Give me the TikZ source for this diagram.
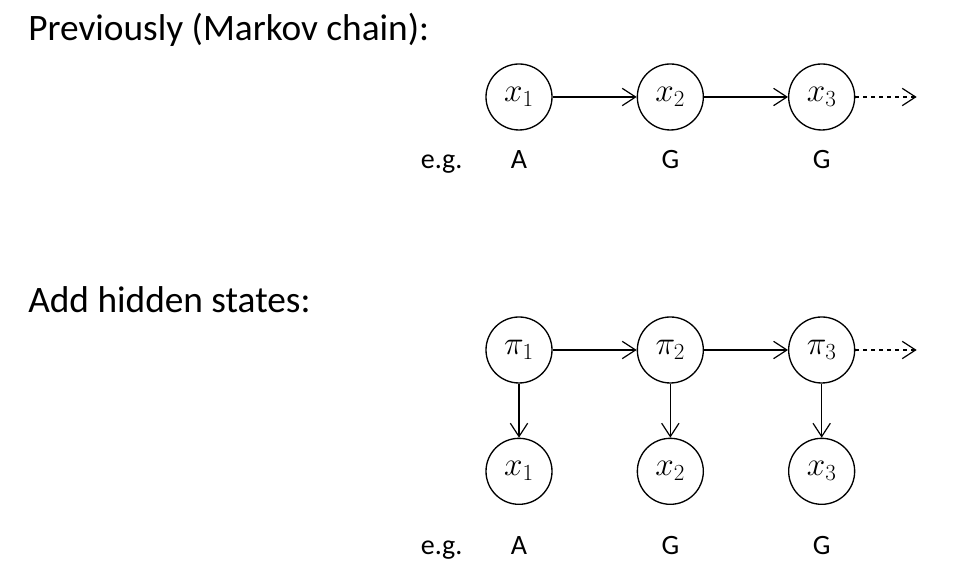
\documentclass[tikz,border=0pt]{standalone}
\usepackage{fontspec}
\setmainfont{Carlito}
\usetikzlibrary{positioning,arrows.meta}
\tikzset{
  state/.style={draw, circle, line width=1pt, minimum size=49.5pt, inner sep=0pt,
    font=\fontsize{23pt}{27pt}\selectfont},
  arr/.style={-{Straight Barb[length=10pt,width=13pt]}, line width=0.9pt},
  lab/.style={inner sep=0pt, text height=14pt, text depth=4pt,
    font=\fontsize{21pt}{25pt}\selectfont},
  head/.style={inner sep=0pt, anchor=west, font=\fontsize{28pt}{34pt}\selectfont},
}

\begin{document}
\begin{tikzpicture}[x=0.75pt, y=0.75pt]
    \useasboundingbox (0,0) rectangle (957,580);
    % Markov chain
    \node[head] (t1) at (28,550) {Previously (Markov chain):};
    \node[state] (x1) at (519,483) {$x_1$};
    \node[state, right=63pt of x1] (x2) {$x_2$};
    \node[state, right=63pt of x2] (x3) {$x_3$};
    \coordinate[right=46pt of x3] (x4);
    \draw[arr] (x1) -- (x2);
    \draw[arr] (x2) -- (x3);
    \draw[arr, dashed] (x3) -- (x4);
    \node[lab, below=14pt of x1] (a1) {A};
    \node[lab, below=14pt of x2] (a2) {G};
    \node[lab, below=14pt of x3] (a3) {G};
    \node[lab, base left=36pt of a1] (eg1) {e.g.};
    % hidden states
    \node[head] (t2) at (28,280) {Add hidden states:};
    \node[state] (p1) at (519,230) {$\pi_1$};
    \node[state, right=63pt of p1] (p2) {$\pi_2$};
    \node[state, right=63pt of p2] (p3) {$\pi_3$};
    \coordinate[right=46pt of p3] (p4);
    \node[state, below=40.5pt of p1] (y1) {$x_1$};
    \node[state, below=40.5pt of p2] (y2) {$x_2$};
    \node[state, below=40.5pt of p3] (y3) {$x_3$};
    \draw[arr] (p1) -- (p2);
    \draw[arr] (p2) -- (p3);
    \draw[arr, dashed] (p3) -- (p4);
    \draw[arr] (p1) -- (y1);
    \draw[arr] (p2) -- (y2);
    \draw[arr] (p3) -- (y3);
    \node[lab, below=23pt of y1] (b1) {A};
    \node[lab, below=23pt of y2] (b2) {G};
    \node[lab, below=23pt of y3] (b3) {G};
    \node[lab, base left=36pt of b1] (eg2) {e.g.};
\end{tikzpicture}
\end{document}
